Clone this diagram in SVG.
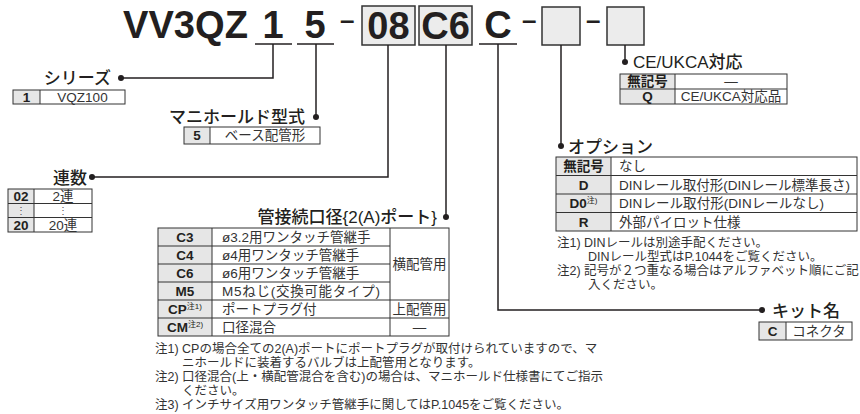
<svg xmlns="http://www.w3.org/2000/svg" width="860" height="414" viewBox="0 0 860 414">
<style>
text{font-family:"Liberation Sans","Noto Sans CJK JP",sans-serif;fill:#231f20}
.t{font-size:38px;font-weight:700}
.dash{font-size:26px;font-weight:700}
.h{font-size:17px;font-weight:500}
.c{font-size:13.5px;font-weight:700;text-anchor:middle}
.d{font-size:13.5px;fill:#333}
.dm{font-size:13.5px;fill:#333;text-anchor:middle}
.v{font-size:10px;fill:#555;text-anchor:middle}
.n{font-size:12.5px;fill:#333}
.sup{font-size:8px;font-weight:400}
.box{fill:#ececec;stroke:#333;stroke-width:1.5}
.g{fill:#e6e6e6}
.tb{fill:none;stroke:#333;stroke-width:1}
.ln{stroke:#333;stroke-width:1}
.ul{stroke:#231f20;stroke-width:1.5}
.con{fill:none;stroke:#231f20;stroke-width:1.5}
.dot{fill:#231f20}
</style>
<g id="model">
<text class="t" x="123" y="38" textLength="125" lengthAdjust="spacingAndGlyphs">VV3QZ</text>
<text class="t" x="273" y="38" text-anchor="middle">1</text>
<text class="t" x="315" y="38" text-anchor="middle">5</text>
<line class="ul" x1="255" y1="44" x2="292" y2="44"/>
<line class="ul" x1="297" y1="44" x2="334" y2="44"/>
<text class="dash" x="340" y="29">–</text>
<rect class="box" x="362" y="6" width="53" height="39"/>
<text class="t" x="388.5" y="39" text-anchor="middle">08</text>
<rect class="box" x="419" y="6" width="53" height="39"/>
<text class="t" x="445.5" y="39" text-anchor="middle">C6</text>
<text class="t" x="498" y="38" text-anchor="middle">C</text>
<line class="ul" x1="479" y1="44" x2="517" y2="44"/>
<text class="dash" x="522" y="29">–</text>
<rect class="box" x="542" y="7" width="38" height="38"/>
<text class="dash" x="586" y="29">–</text>
<rect class="box" x="607" y="7" width="37" height="38"/>
</g>
<g id="connectors">
<path class="con" d="M273,44 V78 H121"/>
<path class="con" d="M316,44 V117"/>
<path class="con" d="M388,45 V177 H92"/>
<path class="con" d="M446,45 V217"/>
<path class="con" d="M498,44 V310 H762"/>
<path class="con" d="M561,45 V146"/>
<path class="con" d="M625,45 V62"/>
<circle class="dot" cx="121" cy="78" r="3"/>
<circle class="dot" cx="316" cy="117" r="3"/>
<circle class="dot" cx="92" cy="177" r="3"/>
<circle class="dot" cx="446" cy="217" r="3"/>
<circle class="dot" cx="762" cy="310" r="3"/>
<circle class="dot" cx="561" cy="146" r="3"/>
<circle class="dot" cx="625" cy="62" r="3"/>
</g>
<g id="series">
<text class="h" x="111" y="84" text-anchor="end">シリーズ</text>
<rect class="g" x="13" y="90" width="27" height="14"/>
<rect class="tb" x="13" y="90" width="112" height="14"/>
<line class="ln" x1="40" y1="90" x2="40" y2="104"/>
<text class="c" x="26.5" y="101.5">1</text>
<text class="dm" x="82.5" y="101.5">VQZ100</text>
</g>
<g id="manifold">
<text class="h" x="305" y="123" text-anchor="end">マニホールド型式</text>
<rect class="g" x="184" y="127" width="26" height="17"/>
<rect class="tb" x="184" y="127" width="136" height="17"/>
<line class="ln" x1="210" y1="127" x2="210" y2="144"/>
<text class="c" x="197" y="140">5</text>
<text class="dm" x="265" y="140">ベース配管形</text>
</g>
<g id="stations">
<text class="h" x="87" y="184" text-anchor="end">連数</text>
<rect class="g" x="8" y="189" width="26" height="43"/>
<rect class="tb" x="8" y="189" width="84" height="43"/>
<line class="ln" x1="34" y1="189" x2="34" y2="232"/>
<line class="ln" x1="8" y1="203.5" x2="92" y2="203.5"/>
<line class="ln" x1="8" y1="217.5" x2="92" y2="217.5"/>
<text class="c" x="21" y="201">02</text>
<text class="dm" x="63" y="201">2連</text>
<text class="v" x="21" y="214">⋮</text>
<text class="v" x="63" y="214">⋮</text>
<text class="c" x="21" y="229.5">20</text>
<text class="dm" x="63" y="229.5">20連</text>
</g>
<g id="port">
<text class="h" x="437" y="223" text-anchor="end">管接続口径{2(A)ポート}</text>
<rect class="g" x="158" y="228" width="54" height="108"/>
<rect class="tb" x="158" y="228" width="291" height="108"/>
<line class="ln" x1="212" y1="228" x2="212" y2="336"/>
<line class="ln" x1="390" y1="228" x2="390" y2="336"/>
<line class="ln" x1="158" y1="246" x2="390" y2="246"/>
<line class="ln" x1="158" y1="264" x2="390" y2="264"/>
<line class="ln" x1="158" y1="282" x2="390" y2="282"/>
<line class="ln" x1="158" y1="300" x2="449" y2="300"/>
<line class="ln" x1="158" y1="318" x2="449" y2="318"/>
<text class="c" x="185" y="242">C3</text>
<text class="c" x="185" y="260">C4</text>
<text class="c" x="185" y="278">C6</text>
<text class="c" x="185" y="296">M5</text>
<text class="c" x="185" y="314">CP<tspan class="sup" dy="-5">注1)</tspan></text>
<text class="c" x="185" y="332">CM<tspan class="sup" dy="-5">注2)</tspan></text>
<text class="d" x="222" y="242">ø3.2用ワンタッチ管継手</text>
<text class="d" x="222" y="260">ø4用ワンタッチ管継手</text>
<text class="d" x="222" y="278">ø6用ワンタッチ管継手</text>
<text class="d" x="222" y="296" textLength="158">M5ねじ(交換可能タイプ)</text>
<text class="d" x="222" y="314">ポートプラグ付</text>
<text class="d" x="222" y="332">口径混合</text>
<text class="dm" x="419.5" y="269">横配管用</text>
<text class="dm" x="419.5" y="314">上配管用</text>
<text class="dm" x="419.5" y="332">—</text>
<text class="n" x="155" y="353">注1) CPの場合全ての2(A)ポートにポートプラグが取付けられていますので、マ</text>
<text class="n" x="182" y="367">ニホールドに装着するバルブは上配管用となります。</text>
<text class="n" x="155" y="381">注2) 口径混合(上・横配管混合を含む)の場合は、マニホールド仕様書にてご指示</text>
<text class="n" x="182" y="395">ください。</text>
<text class="n" x="155" y="409">注3) インチサイズ用ワンタッチ管継手に関してはP.1045をご覧ください。</text>
</g>
<g id="ce">
<text class="h" x="633" y="68">CE/UKCA対応</text>
<rect class="g" x="620" y="74" width="55" height="30"/>
<rect class="tb" x="620" y="74" width="167" height="30"/>
<line class="ln" x1="620" y1="89" x2="787" y2="89"/>
<line class="ln" x1="675" y1="74" x2="675" y2="104"/>
<text class="c" x="647.5" y="86">無記号</text>
<text class="dm" x="731" y="86">—</text>
<text class="c" x="647.5" y="101">Q</text>
<text class="dm" x="731" y="101">CE/UKCA対応品</text>
</g>
<g id="option">
<text class="h" x="568" y="153">オプション</text>
<rect class="g" x="556" y="157" width="55" height="74"/>
<rect class="tb" x="556" y="157" width="301" height="74"/>
<line class="ln" x1="611" y1="157" x2="611" y2="231"/>
<line class="ln" x1="556" y1="175.5" x2="857" y2="175.5"/>
<line class="ln" x1="556" y1="194" x2="857" y2="194"/>
<line class="ln" x1="556" y1="212.5" x2="857" y2="212.5"/>
<text class="c" x="583.5" y="171">無記号</text>
<text class="c" x="583.5" y="189.5">D</text>
<text class="c" x="583.5" y="208">D0<tspan class="sup" dy="-5">注)</tspan></text>
<text class="c" x="583.5" y="226.5">R</text>
<text class="d" x="619" y="171">なし</text>
<text class="d" x="619" y="189.5" textLength="231">DINレール取付形(DINレール標準長さ)</text>
<text class="d" x="619" y="208" textLength="205">DINレール取付形(DINレールなし)</text>
<text class="d" x="619" y="226.5">外部パイロット仕様</text>
<text class="n" x="557" y="247">注1) DINレールは別途手配ください。</text>
<text class="n" x="588" y="261">DINレール型式はP.1044をご覧ください。</text>
<text class="n" x="557" y="275">注2) 記号が２つ重なる場合はアルファベット順にご記</text>
<text class="n" x="588" y="289">入ください。</text>
</g>
<g id="kit">
<text class="h" x="772" y="317">キット名</text>
<rect class="g" x="759" y="322" width="27" height="18"/>
<rect class="tb" x="759" y="322" width="93" height="18"/>
<line class="ln" x1="786" y1="322" x2="786" y2="340"/>
<text class="c" x="772.5" y="336">C</text>
<text class="dm" x="819" y="336">コネクタ</text>
</g>
</svg>
